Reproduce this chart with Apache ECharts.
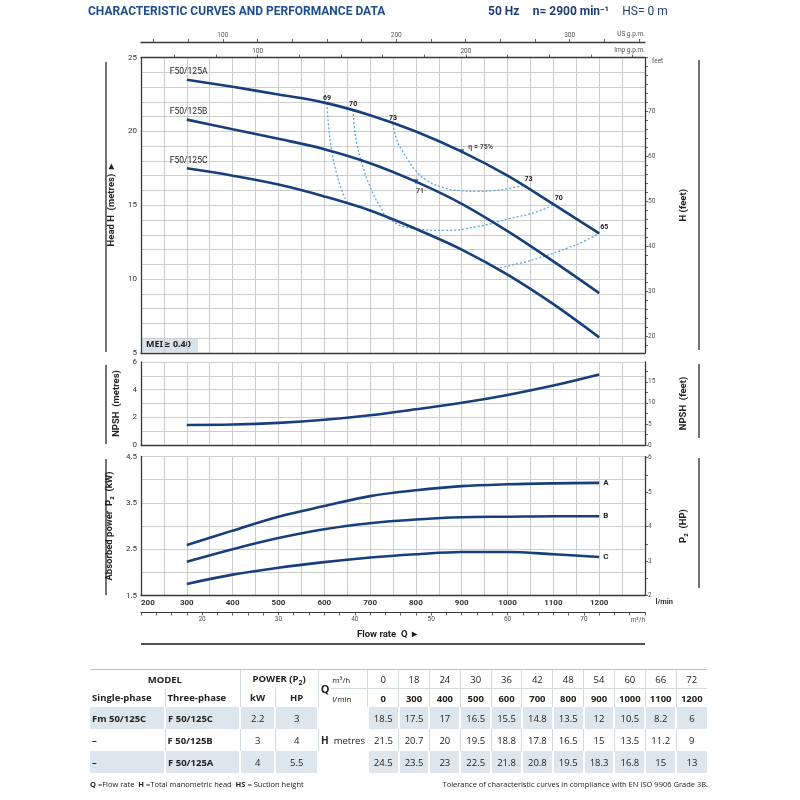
<!DOCTYPE html>
<html>
<head>
<meta charset="utf-8">
<title>F50/125 characteristic curves</title>
<script src="https://cdn.jsdelivr.net/npm/echarts@6.0.0/dist/echarts.min.js"></script>
<style>
  body { margin: 0; background: #fff; }
  #chart { position: absolute; left: 0; top: 0; width: 800px; height: 800px; }
  #perf-table { position: absolute; left: 90px; top: 669px; width: 617px; font-family: "Open Sans", sans-serif; color: #222; }
  #perf-table table { border-collapse: collapse; table-layout: fixed; width: 617px; font-size: 9.5px; border-top: 1px solid #bcc4ca; }
  #perf-table td { padding: 0; text-align: center; white-space: nowrap; overflow: hidden; border-right: 1px solid #d3dadf; }
  #perf-table td:last-child { border-right: none; }
  #perf-table .r1 td { height: 18px; }
  #perf-table .r2 td { height: 18px; }
  #perf-table .r1 td.num, #perf-table .r1 td.unit { border-bottom: 1px solid #d3dadf; }
  #perf-table .row td { height: 22px; }
  #perf-table .shade td { background: #dde6ec; border-right: 2px solid #fff; }
  #perf-table .shade td:last-child { border-right: none; }
  #perf-table td.hm { background: #fff !important; }
  #perf-table .b { font-weight: 700; font-size: 9.5px; }
  #perf-table .l { text-align: left; padding-left: 2px; }
  #perf-table .q { font-weight: 700; font-size: 11px; text-align: left; padding-left: 2px; border-right: none; }
  #perf-table .unit { text-align: left; padding-left: 1px; font-size: 8px; }
  #perf-foot { position: absolute; left: 90px; top: 779px; width: 618px; font-family: "Open Sans", sans-serif; font-size: 7.5px; color: #222; }
  #perf-foot .right { position: absolute; right: 0; top: 0; }
</style>
</head>
<body>
<div id="chart"></div>
<div id="perf-table"></div>
<div id="perf-foot"></div>
<script>
  // performance table
  const tableFlowM3h = [0, 18, 24, 30, 36, 42, 48, 54, 60, 66, 72];
  const tableFlowLmin = [0, 300, 400, 500, 600, 700, 800, 900, 1000, 1100, 1200];
  const tableHeadC = [18.5, 17.5, 17, 16.5, 15.5, 14.8, 13.5, 12, 10.5, 8.2, 6];
  const tableHeadB = [21.5, 20.7, 20, 19.5, 18.8, 17.8, 16.5, 15, 13.5, 11.2, 9];
  const tableHeadA = [24.5, 23.5, 23, 22.5, 21.8, 20.8, 19.5, 18.3, 16.8, 15, 13];
  const singlePhase = ["Fm 50/125C", "–", "–"];
  const threePhase = ["F 50/125C", "F 50/125B", "F 50/125A"];
  const powerKw = ["2.2", "3", "4"];
  const powerHp = ["3", "4", "5.5"];

  // curves (l/min 300 ... 1200)
  const flowLmin = [300, 400, 500, 600, 700, 800, 900, 1000, 1100, 1200];
  const headA = [23.5, 23.02, 22.5, 21.95, 21.1, 20.0, 18.63, 17.0, 15.07, 13.1];
  const headB = [20.8, 20.15, 19.5, 18.8, 17.85, 16.6, 15.1, 13.25, 11.2, 9.05];
  const headC = [17.5, 17.0, 16.4, 15.6, 14.65, 13.4, 12.0, 10.3, 8.3, 6.05];
  const npshM = [1.45, 1.48, 1.6, 1.82, 2.15, 2.58, 3.05, 3.62, 4.3, 5.1];
  const powerA = [2.59, 2.9, 3.2, 3.43, 3.645, 3.77, 3.86, 3.9, 3.92, 3.93];
  const powerB = [2.23, 2.5, 2.74, 2.93, 3.06, 3.14, 3.19, 3.2, 3.21, 3.21];
  const powerC = [1.75, 1.95, 2.1, 2.22, 2.32, 2.39, 2.44, 2.44, 2.39, 2.33];

  // iso-efficiency lines [l/min, m]
  const eff69 = [[606, 21.9], [609, 20.5], [616, 18.75], [627, 17.15], [638, 16.05], [650, 15.15]];
  const eff70 = [[663, 21.45], [665, 20.5], [671, 19.2], [682, 17.85], [700, 16.25], [722, 14.9], [740, 14.12], [790, 13.45], [860, 13.3], [933, 13.55], [1005, 14.1], [1064, 14.55], [1101, 15.05]];
  const eff73 = [[750, 20.5], [758, 19.45], [770, 18.7], [782, 18.1], [798, 17.4], [823, 16.7], [860, 16.2], [896, 15.99], [933, 15.94], [969, 15.99], [1005, 16.15], [1035, 16.35]];
  const eff65 = [[976, 10.72], [1027, 11.07], [1078, 11.52], [1129, 12.08], [1165, 12.53], [1200, 13.1]];
  const eff75Point = [900, 18.63];
  const eff71Point = [800, 16.6];

  // tick labels
  const headLabels = [5, 10, 15, 20, 25];
  const feetLabels = [20, 30, 40, 50, 60, 70];
  const feetTicks = [18, 20, 22, 24, 26, 28, 30, 32, 34, 36, 38, 40, 42, 44, 46, 48, 50, 52, 54, 56, 58, 60, 62, 64, 66, 68, 70, 72, 74, 76, 78, 80, 82];
  const npshLabels = [0, 2, 4, 6];
  const npshFeetLabels = [0, 5, 10, 15];
  const npshFeetTicks = [0, 2.5, 5, 7.5, 10, 12.5, 15, 17.5];
  const powerLabels = [1.5, 2.5, 3.5, 4.5];
  const hpLabels = [2, 3, 4, 5, 6];
  const hpTicks = [2, 2.5, 3, 3.5, 4, 4.5, 5, 5.5, 6];
  const lminLabels = [200, 300, 400, 500, 600, 700, 800, 900, 1000, 1100, 1200];
  const m3hLabels = [20, 30, 40, 50, 60, 70];
  const m3hTicks = [12, 14, 16, 18, 20, 22, 24, 26, 28, 30, 32, 34, 36, 38, 40, 42, 44, 46, 48, 50, 52, 54, 56, 58, 60, 62, 64, 66, 68, 70, 72, 74, 76, 78];
  const usLabels = [100, 200, 300];
  const usTicks = [60, 80, 100, 120, 140, 160, 180, 200, 220, 240, 260, 280, 300, 320, 340];
  const impLabels = [100, 200];
  const impTicks = [60, 80, 100, 120, 140, 160, 180, 200, 220, 240, 260, 280];

  const M_TO_FT = 3.28084;
  const KW_TO_HP = 1 / 0.7457;
  const LMIN_PER_USGPM = 3.78541;
  const LMIN_PER_IMPGPM = 4.54609;

  const LINE_COLOR = "#173f7b";
  const EFF_COLOR = "#5aa8df";
  const GRID_COLOR = "#cdcdcd";
  const AXIS_COLOR = "#3a3a3a";
  const FONT = "Roboto, 'Liberation Sans', sans-serif";

  const chart = echarts.init(document.getElementById("chart"));

  const plain = (v) => String(v);
  const axisLineStyle = { show: true, lineStyle: { color: AXIS_COLOR, width: 1.3 } };
  const splitStyle = { show: true, lineStyle: { color: GRID_COLOR, width: 1 } };
  const titleStyle = { fontFamily: FONT, fontWeight: "bold", fontSize: 9.5, color: "#222" };
  const smallLabel = { fontFamily: FONT, fontSize: 6.5, color: "#555" };

  function flowAxis(gridIndex, extra) {
    return Object.assign({
      type: "value", gridIndex: gridIndex, min: 200, max: 1300, interval: 50,
      axisLine: axisLineStyle, axisTick: { show: false }, axisLabel: { show: false },
      splitLine: splitStyle
    }, extra);
  }

  function secondaryAxis(extra, labels, ticks) {
    return Object.assign({
      type: "value", splitLine: { show: false },
      axisLabel: Object.assign({ customValues: labels, margin: 3, formatter: plain }, smallLabel),
      axisTick: { show: true, customValues: ticks, length: 3, lineStyle: { color: AXIS_COLOR, width: 0.8 } }
    }, extra);
  }

  function pointLabel(text, position, offset) {
    return {
      show: true, formatter: text, position: position, distance: 2, offset: offset || [0, 0],
      fontFamily: FONT, fontSize: 7, fontWeight: "bold", color: "#222"
    };
  }

  function pumpCurve(name, yIdx, xs, ys, extra) {
    return Object.assign({
      name: name, type: "line", xAxisIndex: yIdx === 0 ? 0 : (yIdx === 2 ? 3 : 4), yAxisIndex: yIdx,
      smooth: 0.35, symbol: "circle", symbolSize: 0, showSymbol: true,
      silent: true, z: 4,
      lineStyle: { color: LINE_COLOR, width: 2.6 }, itemStyle: { color: LINE_COLOR },
      data: xs.map((q, i) => [q, ys[i]])
    }, extra);
  }

  function headCurve(name, heads) {
    const s = pumpCurve(name, 0, flowLmin, heads);
    s.data[0] = {
      value: s.data[0],
      label: {
        show: true, formatter: name, position: "top", align: "left", distance: 3, offset: [-17, 0],
        fontFamily: FONT, fontSize: 8.5, color: "#222"
      }
    };
    return s;
  }

  function effCurve(name, points, firstLabel, lastLabel) {
    const data = points.map((p) => [p[0], p[1]]);
    if (firstLabel) data[0] = { value: data[0], label: pointLabel(firstLabel, "top") };
    if (lastLabel) {
      const n = data.length - 1;
      data[n] = { value: data[n], label: pointLabel(lastLabel, "right", [-1, -6]) };
    }
    return {
      name: name, type: "line", xAxisIndex: 0, yAxisIndex: 0, smooth: 0.5,
      symbol: "circle", symbolSize: 0, showSymbol: true, silent: true, z: 3,
      lineStyle: { color: EFF_COLOR, width: 1.3, type: [2, 2] },
      itemStyle: { color: EFF_COLOR },
      data: data
    };
  }

  function powerCurve(name, values) {
    return pumpCurve(name, 4, flowLmin, values, {
      endLabel: { show: true, formatter: name, distance: 4, fontFamily: FONT, fontSize: 8, fontWeight: "bold", color: "#222" }
    });
  }

  const grids = [
    { left: 141, top: 57.6, width: 504, height: 295.3, outerBoundsMode: "none" },
    { left: 141, top: 362, width: 504, height: 83, outerBoundsMode: "none" },
    { left: 141, top: 456.5, width: 504, height: 139, outerBoundsMode: "none" }
  ];

  const option = {
    animation: false,
    backgroundColor: "#fff",
    grid: grids,
    xAxis: [
      flowAxis(0),
      secondaryAxis({
        gridIndex: 0, position: "top", min: 200 / LMIN_PER_IMPGPM, max: 1300 / LMIN_PER_IMPGPM,
        axisLine: axisLineStyle,
        name: "Imp g.p.m.", nameLocation: "end", nameGap: 0,
        nameTextStyle: Object.assign({ align: "right", verticalAlign: "bottom", padding: [0, 0, 4, 0] }, smallLabel)
      }, impLabels, impTicks),
      secondaryAxis({
        gridIndex: 0, position: "top", offset: 15.6, min: 200 / LMIN_PER_USGPM, max: 1300 / LMIN_PER_USGPM,
        axisLine: axisLineStyle,
        name: "US g.p.m.", nameLocation: "end", nameGap: 0,
        nameTextStyle: Object.assign({ align: "right", verticalAlign: "bottom", padding: [0, 0, 4, 0] }, smallLabel)
      }, usLabels, usTicks),
      flowAxis(1),
      flowAxis(2, {
        axisLabel: {
          show: true, customValues: lminLabels, margin: 3, alignMinLabel: "left", formatter: plain,
          fontFamily: FONT, fontSize: 8, fontWeight: "bold", color: "#333"
        },
        name: "l/min", nameLocation: "end", nameGap: 0,
        nameTextStyle: { align: "right", verticalAlign: "top", padding: [3, 0, 0, 0], fontFamily: FONT, fontSize: 7.5, fontWeight: "bold", color: "#333" }
      }),
      secondaryAxis({
        gridIndex: 2, position: "bottom", offset: 17, min: 12, max: 78,
        axisLine: { show: true, lineStyle: { color: AXIS_COLOR, width: 1.2 } },
        name: "m³/h", nameLocation: "end", nameGap: 0,
        nameTextStyle: Object.assign({ align: "right", verticalAlign: "top", padding: [4, 0, 0, 0] }, smallLabel)
      }, m3hLabels, m3hTicks)
    ],
    yAxis: [
      {
        type: "value", gridIndex: 0, min: 5, max: 25, interval: 1,
        axisLine: axisLineStyle, axisTick: { show: false }, splitLine: splitStyle,
        axisLabel: { customValues: headLabels, margin: 4, formatter: plain, fontFamily: FONT, fontSize: 8, color: "#333" },
        name: "Head H  (metres)  ▸", nameLocation: "middle", nameGap: 19, nameRotate: 90, nameTextStyle: titleStyle
      },
      secondaryAxis({
        gridIndex: 0, position: "right", min: 5 * M_TO_FT, max: 25 * M_TO_FT,
        axisLine: axisLineStyle,
        name: "H (feet)", nameLocation: "middle", nameGap: 34, nameRotate: 90, nameTextStyle: titleStyle
      }, feetLabels, feetTicks),
      {
        type: "value", gridIndex: 1, min: 0, max: 6, interval: 1,
        axisLine: axisLineStyle, axisTick: { show: false }, splitLine: splitStyle,
        axisLabel: { customValues: npshLabels, margin: 4, formatter: plain, fontFamily: FONT, fontSize: 8, color: "#333" },
        name: "NPSH  (metres)", nameLocation: "middle", nameGap: 19, nameRotate: 90, nameTextStyle: titleStyle
      },
      secondaryAxis({
        gridIndex: 1, position: "right", min: 0, max: 6 * M_TO_FT,
        axisLine: axisLineStyle,
        name: "NPSH  (feet)", nameLocation: "middle", nameGap: 34, nameRotate: 90, nameTextStyle: titleStyle
      }, npshFeetLabels, npshFeetTicks),
      {
        type: "value", gridIndex: 2, min: 1.5, max: 4.5, interval: 0.5,
        axisLine: axisLineStyle, axisTick: { show: false }, splitLine: splitStyle,
        axisLabel: { customValues: powerLabels, margin: 4, formatter: plain, fontFamily: FONT, fontSize: 8, color: "#333" },
        name: "Absorbed power  P₂  (kW)", nameLocation: "middle", nameGap: 19, nameRotate: 90, nameTextStyle: titleStyle
      },
      secondaryAxis({
        gridIndex: 2, position: "right", min: 2, max: 4.5 * KW_TO_HP,
        axisLine: axisLineStyle,
        name: "P₂  (HP)", nameLocation: "middle", nameGap: 34, nameRotate: 90, nameTextStyle: titleStyle
      }, hpLabels, hpTicks)
    ],
    series: [
      effCurve("η 69", eff69, "69", null),
      effCurve("η 70", eff70, "70", "70"),
      effCurve("η 73", eff73, "73", "73"),
      effCurve("η 65", eff65, null, "65"),
      headCurve("F50/125A", headA),
      headCurve("F50/125B", headB),
      headCurve("F50/125C", headC),
      {
        name: "efficiency marks", type: "scatter", xAxisIndex: 0, yAxisIndex: 0, z: 5, silent: true,
        symbol: "triangle", symbolRotate: 180, symbolSize: 5, itemStyle: { color: LINE_COLOR },
        data: [
          { value: eff75Point, label: pointLabel("η = 75%", "right", [2, -4]) },
          { value: eff71Point, label: pointLabel("71", "bottom", [4, 2]) }
        ]
      },
      pumpCurve("NPSH", 2, flowLmin, npshM),
      powerCurve("A", powerA),
      powerCurve("B", powerB),
      powerCurve("C", powerC)
    ],
    graphic: [
      {
        type: "text", left: 88, top: 6,
        style: { text: "CHARACTERISTIC CURVES AND PERFORMANCE DATA", font: "bold 12px " + FONT, fill: "#1f4d8c" }
      },
      {
        type: "text", left: 488, top: 6,
        style: {
          text: "{b|50 Hz}    {b|n= 2900 min⁻¹}    {r|HS= 0 m}",
          rich: {
            b: { font: "bold 12px " + FONT, fill: "#1f3f73" },
            r: { font: "12px " + FONT, fill: "#1f3f73" }
          }
        }
      },
      {
        type: "text", left: 652, top: 58,
        style: { text: "feet", font: "6.5px " + FONT, fill: "#555" }
      },
      {
        type: "group", left: 142, top: 338,
        children: [
          { type: "rect", shape: { x: 0, y: 0, width: 56, height: 14 }, style: { fill: "#d8e2ea" } },
          { type: "text", left: 4, top: 2, style: { text: "MEI≥ 0.40", font: "bold 9px 'Noto Sans', 'DejaVu Sans', sans-serif", fill: "#222" } }
        ]
      },
      {
        type: "text", left: 357, top: 630,
        style: { text: "Flow rate  Q  ▸", font: "bold 9.5px " + FONT, fill: "#222" }
      },
      { type: "line", shape: { x1: 141, y1: 644, x2: 645, y2: 644 }, style: { stroke: "#555", lineWidth: 2 } },
      { type: "line", shape: { x1: 106, y1: 62, x2: 106, y2: 352 }, style: { stroke: "#444", lineWidth: 1.5 } },
      { type: "line", shape: { x1: 106, y1: 365, x2: 106, y2: 444 }, style: { stroke: "#444", lineWidth: 1.5 } },
      { type: "line", shape: { x1: 106, y1: 459, x2: 106, y2: 595 }, style: { stroke: "#444", lineWidth: 1.5 } },
      { type: "line", shape: { x1: 699, y1: 60, x2: 699, y2: 350 }, style: { stroke: "#444", lineWidth: 1.5 } },
      { type: "line", shape: { x1: 699, y1: 364, x2: 699, y2: 438 }, style: { stroke: "#444", lineWidth: 1.5 } },
      { type: "line", shape: { x1: 699, y1: 458, x2: 699, y2: 588 }, style: { stroke: "#444", lineWidth: 1.5 } }
    ]
  };

  chart.setOption(option);

  // performance table
  function numCells(values, cls) {
    return values.map((v) => `<td class="num ${cls || ""}">${v}</td>`).join("");
  }

  const colWidths = [75, 75, 35, 43, 13, 36.6].concat(tableFlowM3h.map(() => 30.8));
  const headRows = [tableHeadC, tableHeadB, tableHeadA];

  let html = "<table><colgroup>" + colWidths.map((w) => `<col style="width:${w}px">`).join("") + "</colgroup>";
  html += `<tr class="r1"><td colspan="2" class="b">MODEL</td><td colspan="2" class="b">POWER (P<sub style="font-size:7px">2</sub>)</td>` +
    `<td rowspan="2" class="q">Q</td><td class="unit">m³/h</td>${numCells(tableFlowM3h)}</tr>`;
  html += `<tr class="r2"><td class="b l">Single-phase</td><td class="b l">Three-phase</td><td class="b">kW</td><td class="b">HP</td>` +
    `<td class="unit">l/min</td>${numCells(tableFlowLmin, "b")}</tr>`;
  headRows.forEach((row, i) => {
    const shade = i % 2 === 0 ? "shade" : "";
    let hCell = "";
    if (i === 0) {
      hCell = `<td rowspan="3" colspan="2" class="hm"><span class="b" style="font-size:10px">H</span>&nbsp; metres</td>`;
    }
    html += `<tr class="row ${shade}"><td class="b l">${singlePhase[i]}</td><td class="b l">${threePhase[i]}</td>` +
      `<td>${powerKw[i]}</td><td>${powerHp[i]}</td>${hCell}${numCells(row)}</tr>`;
  });
  html += "</table>";
  document.getElementById("perf-table").innerHTML = html;

  document.getElementById("perf-foot").innerHTML =
    `<span><b>Q</b> =Flow rate &nbsp;<b>H</b> =Total manometric head &nbsp;<b>HS</b> = Suction height</span>` +
    `<span class="right">Tolerance of characteristic curves in compliance with EN ISO 9906 Grade 3B.</span>`;
</script>
</body>
</html>
